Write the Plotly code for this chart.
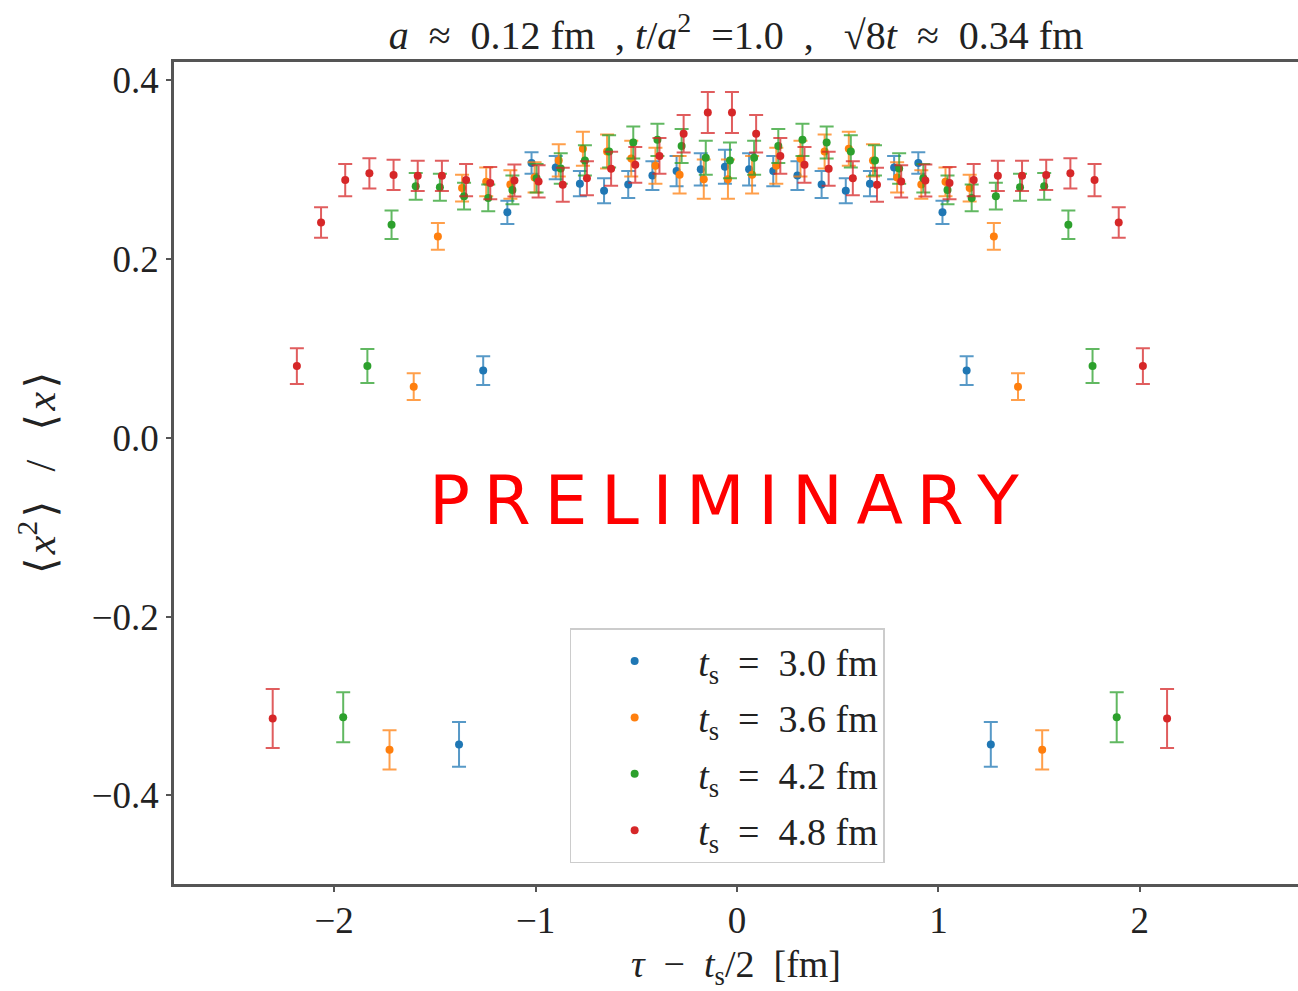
import plotly.graph_objects as go

# ---- data ----
x_b = [-1.38,-1.26,-1.14,-1.02,-0.90,-0.78,-0.66,-0.54,-0.42,-0.30,-0.18,-0.06,0.06,0.18,0.30,0.42,0.54,0.66,0.78,0.90,1.02,1.14,1.26]
y_b = [-0.343,0.075,0.252,0.307,0.302,0.284,0.276,0.283,0.293,0.298,0.300,0.303,0.300,0.298,0.293,0.283,0.276,0.284,0.302,0.307,0.252,0.075,-0.343]
e_b = [0.025,0.016,0.013,0.012,0.013,0.014,0.014,0.015,0.016,0.017,0.018,0.019,0.018,0.017,0.016,0.015,0.014,0.014,0.013,0.012,0.013,0.016,0.025]

x_o = [-1.725,-1.605,-1.485,-1.365,-1.245,-1.125,-1.005,-0.885,-0.765,-0.645,-0.525,-0.405,-0.285,-0.165,-0.045,0.075,0.195,0.315,0.435,0.555,0.675,0.795,0.915,1.035,1.155,1.275,1.395,1.515]
y_o = [-0.349,0.057,0.225,0.279,0.286,0.283,0.291,0.310,0.323,0.320,0.312,0.304,0.294,0.289,0.289,0.294,0.304,0.312,0.320,0.323,0.310,0.291,0.283,0.286,0.279,0.225,0.057,-0.349]
e_o = [0.022,0.015,0.015,0.015,0.016,0.016,0.017,0.018,0.019,0.019,0.020,0.020,0.021,0.022,0.022,0.021,0.020,0.020,0.019,0.019,0.018,0.017,0.016,0.016,0.015,0.015,0.015,0.022]

x_g = [-1.955,-1.835,-1.715,-1.595,-1.475,-1.355,-1.235,-1.115,-0.995,-0.875,-0.755,-0.635,-0.515,-0.395,-0.275,-0.155,-0.035,0.085,0.205,0.325,0.445,0.565,0.685,0.805,0.925,1.045,1.165,1.285,1.405,1.525,1.645,1.765,1.885]
y_g = [-0.3125,0.080,0.238,0.281,0.280,0.270,0.268,0.277,0.290,0.301,0.310,0.320,0.330,0.333,0.326,0.313,0.310,0.313,0.326,0.333,0.330,0.320,0.310,0.301,0.290,0.277,0.268,0.270,0.280,0.281,0.238,0.080,-0.3125]
e_g = [0.028,0.019,0.016,0.015,0.015,0.015,0.015,0.016,0.016,0.017,0.017,0.018,0.018,0.018,0.019,0.019,0.020,0.019,0.019,0.018,0.018,0.018,0.017,0.017,0.016,0.016,0.015,0.015,0.015,0.015,0.016,0.019,0.028]

x_r = [-2.305,-2.185,-2.065,-1.945,-1.825,-1.705,-1.585,-1.465,-1.345,-1.225,-1.105,-0.985,-0.865,-0.745,-0.625,-0.505,-0.385,-0.265,-0.145,-0.025,0.095,0.215,0.335,0.455,0.575,0.695,0.815,0.935,1.055,1.175,1.295,1.415,1.535,1.655,1.775,1.895,2.015,2.135]
y_r = [-0.314,0.080,0.2406,0.288,0.2955,0.2938,0.2927,0.2927,0.288,0.2846,0.2875,0.2865,0.2827,0.290,0.3006,0.305,0.315,0.3397,0.3635,0.3635,0.3397,0.315,0.305,0.3006,0.290,0.2827,0.2865,0.2875,0.2846,0.288,0.2927,0.2927,0.2938,0.2955,0.288,0.2406,0.080,-0.314]
e_r = [0.033,0.020,0.017,0.018,0.017,0.017,0.017,0.017,0.018,0.018,0.018,0.018,0.019,0.019,0.019,0.020,0.020,0.021,0.023,0.023,0.021,0.020,0.020,0.019,0.019,0.019,0.018,0.018,0.018,0.018,0.017,0.017,0.017,0.017,0.018,0.017,0.020,0.033]

EN = "\u2002"
TS = "\u2009"
HS = "\u200a"
series_names = [f"<i>t</i><sub>s</sub>{EN}={EN}3.0 fm", f"<i>t</i><sub>s</sub>{EN}={EN}3.6 fm",
                f"<i>t</i><sub>s</sub>{EN}={EN}4.2 fm", f"<i>t</i><sub>s</sub>{EN}={EN}4.8 fm"]
colors = ["#1f77b4", "#ff7f0e", "#2ca02c", "#d62728"]
err_colors = ["rgba(31,119,180,0.75)", "rgba(255,127,14,0.75)",
              "rgba(44,160,44,0.75)", "rgba(214,39,40,0.75)"]

xs = [x_b, x_o, x_g, x_r]
ys = [y_b, y_o, y_g, y_r]
es = [e_b, e_o, e_g, e_r]

SERIF = "Liberation Serif, DejaVu Serif, serif"
TXT = "#222222"

fig = go.Figure()
for i in range(4):
    fig.add_trace(go.Scatter(
        x=xs[i], y=ys[i], mode="markers", name=series_names[i],
        legendgroup=str(i),
        marker=dict(color=colors[i], size=8),
        error_y=dict(type="data", array=es[i], visible=True,
                     color=err_colors[i], thickness=2, width=7),
    ))

fig.add_annotation(text=TS.join(list("PRELIMINARY")),
                   x=-0.065, y=-0.07, xref="x", yref="y", showarrow=False,
                   font=dict(family="DejaVu Sans", size=68, color="#ff0000"))

axis_common = dict(showline=True, linecolor="#555555", linewidth=2.5,
                   ticks="outside", ticklen=5, tickwidth=1.5, tickcolor="#555555",
                   showgrid=False, zeroline=False,
                   tickfont=dict(family=SERIF, size=37, color=TXT))

title_text = (f"<i>a</i>{EN}≈{EN}0.12 fm{EN}, <i>t</i>/<i>a</i><sup>2</sup>{EN}=1.0{EN},{EN} "
              f"√8<i>t</i>{EN}≈{EN}0.34 fm")

fig.update_layout(
    width=1298, height=991,
    margin=dict(l=174, r=0, t=62, b=107),
    paper_bgcolor="white", plot_bgcolor="white",
    title=dict(text=title_text,
               x=0.567, xanchor="center", y=0.965, yanchor="middle",
               font=dict(family=SERIF, size=40, color=TXT)),
    xaxis=dict(range=[-2.795, 2.785], tickvals=[-2, -1, 0, 1, 2], mirror=True,
               ticklabelstandoff=-3,
               title=dict(text=f"<i>τ</i>{EN}−{EN}<i>t</i><sub>s</sub>/2{EN}[fm]", standoff=12,
                          font=dict(family=SERIF, size=38, color=TXT)),
               **axis_common),
    yaxis=dict(range=[-0.499, 0.420], tickvals=[-0.4, -0.2, 0.0, 0.2, 0.4], mirror=False,
               ticktext=["−0.4", "−0.2", "0.0", "0.2", "0.4"],
               title=dict(text=f"⟨{HS}<i>x</i><sup>2</sup>{HS}⟩{EN}{TS}/{EN}{TS}⟨{HS}<i>x</i>{HS}⟩", standoff=24,
                          font=dict(family=SERIF, size=42, color=TXT)),
               **axis_common),
    legend=dict(x=0.352, y=0.311, xanchor="left", yanchor="top",
                bgcolor="white", bordercolor="#cccccc", borderwidth=1.5,
                font=dict(family=SERIF, size=38, color=TXT),
                tracegroupgap=4, itemwidth=117),
    showlegend=True,
)

fig.write_html("out.html")
